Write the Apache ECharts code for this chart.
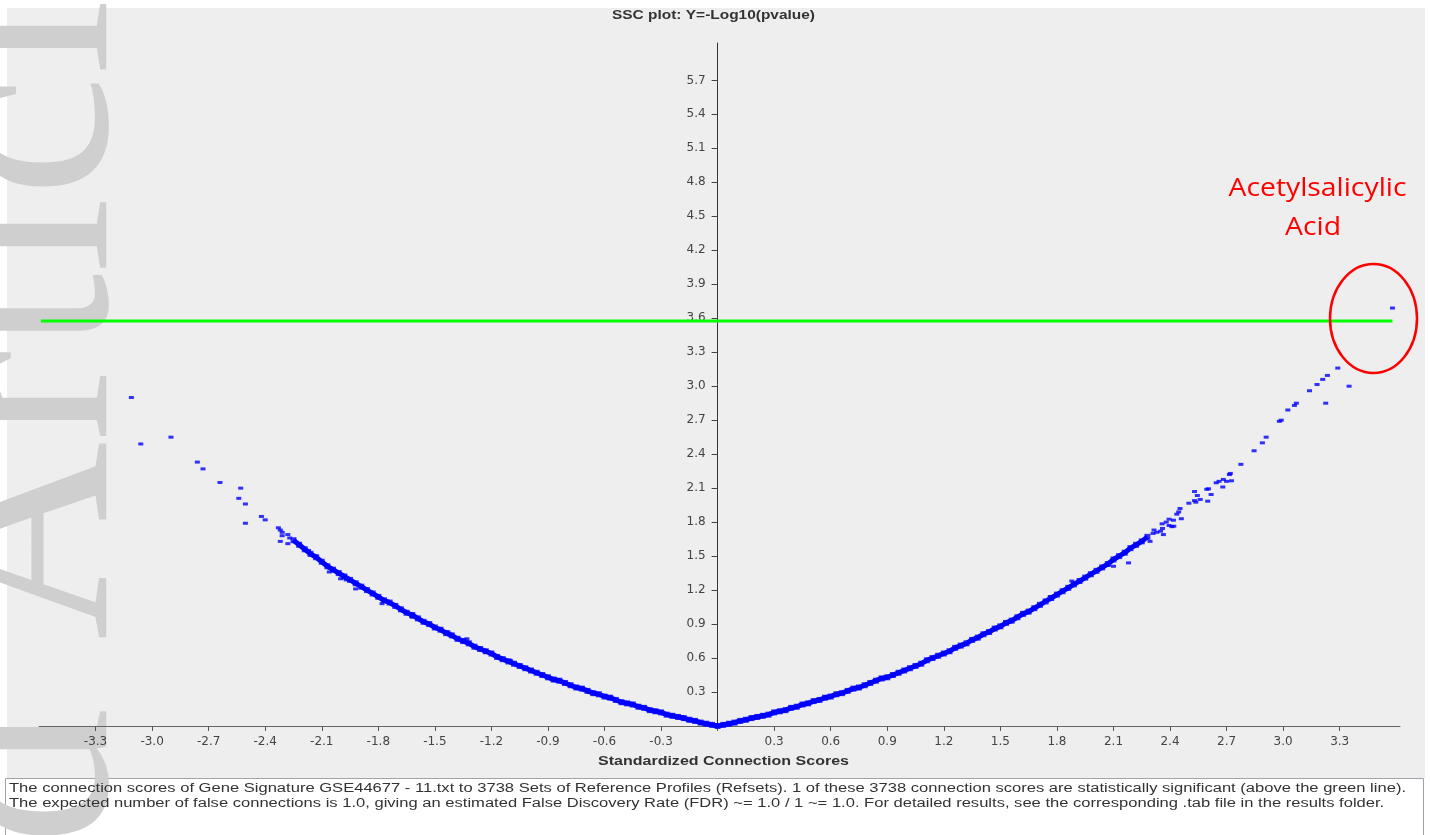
<!DOCTYPE html>
<html><head><meta charset="utf-8">
<script src="https://cdn.jsdelivr.net/npm/echarts@6/dist/echarts.min.js"></script>
<style>html,body{margin:0;padding:0;background:#fff}#c{width:1430px;height:835px}</style>
</head><body><div id="c"></div>
<script>
const xTicks = [-3.3,-3.0,-2.7,-2.4,-2.1,-1.8,-1.5,-1.2,-0.9,-0.6,-0.3,0,0.3,0.6,0.9,1.2,1.5,1.8,2.1,2.4,2.7,3.0,3.3];
const xLabels = [-3.3,-3.0,-2.7,-2.4,-2.1,-1.8,-1.5,-1.2,-0.9,-0.6,-0.3,0.3,0.6,0.9,1.2,1.5,1.8,2.1,2.4,2.7,3.0,3.3];
const yTicks = [0.3,0.6,0.9,1.2,1.5,1.8,2.1,2.4,2.7,3.0,3.3,3.6,3.9,4.2,4.5,4.8,5.1,5.4,5.7];
const threshold = 3.575;
const thresholdSpan = [-3.59, 3.58];

const bandLeft = [[-2.25,1.64],[-2.22,1.60],[-2.19,1.56],[-2.16,1.52],[-2.13,1.49],[-2.10,1.45],[-2.07,1.41],[-2.04,1.38],[-2.01,1.35],[-1.98,1.32],[-1.95,1.29],[-1.92,1.26],[-1.89,1.23],[-1.86,1.20],[-1.83,1.17],[-1.80,1.14],[-1.77,1.11],[-1.74,1.09],[-1.71,1.06],[-1.68,1.03],[-1.65,1.00],[-1.62,0.98],[-1.59,0.95],[-1.56,0.92],[-1.53,0.90],[-1.50,0.87],[-1.47,0.85],[-1.44,0.82],[-1.41,0.80],[-1.38,0.77],[-1.35,0.75],[-1.32,0.73],[-1.29,0.70],[-1.26,0.68],[-1.23,0.66],[-1.20,0.64],[-1.17,0.61],[-1.14,0.59],[-1.11,0.57],[-1.08,0.55],[-1.05,0.53],[-1.02,0.51],[-0.99,0.49],[-0.96,0.47],[-0.93,0.45],[-0.90,0.43],[-0.87,0.41],[-0.84,0.40],[-0.81,0.38],[-0.78,0.36],[-0.75,0.34],[-0.72,0.33],[-0.69,0.31],[-0.66,0.29],[-0.63,0.28],[-0.60,0.26],[-0.57,0.25],[-0.54,0.23],[-0.51,0.21],[-0.48,0.20],[-0.45,0.19],[-0.42,0.17],[-0.39,0.16],[-0.36,0.14],[-0.33,0.13],[-0.30,0.12],[-0.27,0.10],[-0.24,0.09],[-0.21,0.08],[-0.18,0.07],[-0.15,0.055],[-0.12,0.045],[-0.09,0.03],[-0.06,0.02],[-0.03,0.01],[0.00,0.00]];
const bandRight = [[0.03,0.01],[0.06,0.02],[0.09,0.03],[0.12,0.045],[0.15,0.055],[0.18,0.07],[0.21,0.08],[0.24,0.09],[0.27,0.10],[0.30,0.12],[0.33,0.13],[0.36,0.14],[0.39,0.16],[0.42,0.17],[0.45,0.19],[0.48,0.20],[0.51,0.22],[0.54,0.23],[0.57,0.25],[0.60,0.26],[0.63,0.28],[0.66,0.29],[0.69,0.31],[0.72,0.33],[0.75,0.34],[0.78,0.36],[0.81,0.38],[0.84,0.40],[0.87,0.42],[0.90,0.43],[0.93,0.45],[0.96,0.47],[0.99,0.49],[1.02,0.51],[1.05,0.53],[1.08,0.55],[1.11,0.58],[1.14,0.60],[1.17,0.62],[1.20,0.64],[1.23,0.66],[1.26,0.69],[1.29,0.71],[1.32,0.73],[1.35,0.76],[1.38,0.78],[1.41,0.81],[1.44,0.83],[1.47,0.86],[1.50,0.88],[1.53,0.91],[1.56,0.93],[1.59,0.96],[1.62,0.99],[1.65,1.01],[1.68,1.04],[1.71,1.07],[1.74,1.10],[1.77,1.13],[1.80,1.16],[1.83,1.19],[1.86,1.22],[1.89,1.25],[1.92,1.28],[1.95,1.31],[1.98,1.34],[2.01,1.37],[2.04,1.40],[2.07,1.43],[2.10,1.47],[2.13,1.50],[2.16,1.53],[2.19,1.57],[2.22,1.60],[2.25,1.63],[2.28,1.67]];
const sparseLeft = [[-3.11,2.90],[-3.06,2.49],[-2.90,2.55],[-2.76,2.33],[-2.73,2.27],[-2.64,2.15],[-2.53,2.10],[-2.54,2.01],[-2.505,1.96],[-2.505,1.79],[-2.42,1.85],[-2.40,1.82],[-2.33,1.75],[-2.32,1.73],[-2.31,1.71],[-2.31,1.68],[-2.32,1.63],[-2.28,1.69],[-2.28,1.61],[-2.27,1.66],[-2.17,1.55],[-2.06,1.36],[-2.00,1.30],[-1.97,1.29],[-1.92,1.21],[-1.78,1.08],[-1.62,0.96],[-1.43,0.83],[-1.33,0.77],[-1.10,0.58]];
const sparseRight = [[3.58,3.69],[3.29,3.16],[3.35,3.00],[3.235,3.095],[3.21,3.06],[3.18,3.015],[3.14,2.96],[3.226,2.85],[3.07,2.85],[3.06,2.83],[3.025,2.79],[2.99,2.70],[2.98,2.69],[2.91,2.55],[2.89,2.50],[2.846,2.43],[2.776,2.31],[2.72,2.23],[2.715,2.22],[2.726,2.165],[2.683,2.177],[2.70,2.16],[2.66,2.16],[2.645,2.147],[2.68,2.11],[2.618,2.044],[2.604,2.094],[2.595,2.09],[2.60,1.985],[2.56,2.0],[2.545,2.035],[2.53,2.07],[2.537,1.976],[2.53,1.99],[2.50,1.967],[2.453,1.92],[2.446,1.89],[2.46,1.83],[2.436,1.87],[2.418,1.817],[2.395,1.826],[2.41,1.76],[2.395,1.77],[2.42,1.764],[2.38,1.80],[2.358,1.785],[2.365,1.69],[2.36,1.744],[2.315,1.73],[2.33,1.71],[2.35,1.72],[2.31,1.70],[2.294,1.63],[2.18,1.44],[2.10,1.41],[1.879,1.28],[1.764,1.14]];

const titleText = 'SSC plot: Y=-Log10(pvalue)';
const xAxisName = 'Standardized Connection Scores';
const footer1 = 'The connection scores of Gene Signature GSE44677 - 11.txt to 3738 Sets of Reference Profiles (Refsets). 1 of these 3738 connection scores are statistically significant (above the green line).';
const footer2 = 'The expected number of false connections is 1.0, giving an estimated False Discovery Rate (FDR) ~= 1.0 / 1 ~= 1.0. For detailed results, see the corresponding .tab file in the results folder.';
const annotLines = ['Acetylsalicylic', 'Acid'];
const watermarkA = 'Accepted';
const watermarkB = 'Article';

const mctx = document.createElement('canvas').getContext('2d');
function fitScale(text, font, target) { mctx.font = font; return target / mctx.measureText(text).width; }

const titleFont = 'bold 12.5px "Liberation Sans"';
const nameFont = 'bold 12.5px "Liberation Sans"';
const footFont = '12px "Liberation Sans"';
const annotFont = '26px "Open Sans"';
const titleScale = fitScale(titleText, titleFont, 203);
const nameScale = fitScale(xAxisName, nameFont, 251);
const footScale = fitScale(footer1, footFont, 1397);
const annotScale = fitScale(annotLines[0], annotFont, 178);

const gridLeft = 39, gridRight = 30, xMin = -3.6, xMax = 3.62;
const plotW = 1430 - gridLeft - gridRight;
const zeroOffset = (0 - xMin) / (xMax - xMin) * plotW;

const chart = echarts.init(document.getElementById('c'), null, {renderer: 'canvas'});
const option = {
  animation: false,
  backgroundColor: '#ffffff',
  grid: {left: gridLeft, right: gridRight, top: 43, bottom: 109, containLabel: false, outerBoundsMode: 'none'},
  xAxis: {
    type: 'value', min: xMin, max: xMax,
    splitLine: {show: false},
    axisLine: {show: true, lineStyle: {color: '#666', width: 1}},
    axisTick: {show: true, length: 5, lineStyle: {color: '#555'}, customValues: xTicks},
    axisLabel: {customValues: xLabels, margin: 10, color: '#444', fontFamily: 'DejaVu Sans', fontSize: 12,
      formatter: v => v.toFixed(1)}
  },
  yAxis: {
    type: 'value', min: 0, max: 6.03, position: 'left', offset: -zeroOffset,
    splitLine: {show: false},
    axisLine: {show: true, onZero: false, lineStyle: {color: '#333', width: 1}},
    axisTick: {show: true, length: 6, lineStyle: {color: '#444'}, customValues: yTicks},
    axisLabel: {customValues: yTicks, margin: 12, color: '#444', fontFamily: 'DejaVu Sans', fontSize: 12,
      formatter: v => v.toFixed(1)}
  },
  series: [
    {type: 'line', data: [[thresholdSpan[0], threshold], [thresholdSpan[1], threshold]], symbol: 'none',
      lineStyle: {color: '#00ff00', width: 3}, silent: true, z: 3},
    {type: 'line', data: bandLeft.concat(bandRight), symbol: 'none', smooth: false,
      lineStyle: {color: '#0000ff', width: 5}, silent: true, z: 4},
    {type: 'scatter', data: bandLeft.concat(bandRight), symbol: 'rect', symbolSize: [6, 6],
      itemStyle: {color: '#0000ff'}, silent: true, z: 4},
    {type: 'scatter', data: sparseLeft.concat(sparseRight), symbol: 'rect', symbolSize: [5, 3],
      itemStyle: {color: '#0000ff'}, silent: true, z: 4}
  ],
  graphic: {elements: [
    {type: 'rect', shape: {x: 7, y: 8, width: 1418, height: 770}, style: {fill: '#eeeeee'}, z: -100, silent: true},
    {type: 'rect', shape: {x: 5.5, y: 778.5, width: 1418, height: 62}, style: {fill: '#ffffff', stroke: '#a0a4aa', lineWidth: 1}, z: -90, silent: true},
    {type: 'text', x: 34, y: 640, rotation: Math.PI / 2, z: -50, silent: true,
      style: {text: watermarkB, font: '275px "Liberation Serif"', fill: '#cfcfcf', align: 'left', verticalAlign: 'middle'}},
    {type: 'text', x: 34, y: 708, rotation: Math.PI / 2, z: -50, silent: true,
      style: {text: watermarkA, font: '275px "Liberation Serif"', fill: '#cfcfcf', align: 'right', verticalAlign: 'middle'}},
    {type: 'text', x: 713.5, y: 16, scaleX: titleScale, z: 100, silent: true,
      style: {text: titleText, font: titleFont, fill: '#333', align: 'center', verticalAlign: 'middle'}},
    {type: 'text', x: 723.5, y: 762, scaleX: nameScale, z: 100, silent: true,
      style: {text: xAxisName, font: nameFont, fill: '#333', align: 'center', verticalAlign: 'middle'}},
    {type: 'text', x: 9, y: 789, scaleX: footScale, z: 100, silent: true,
      style: {text: footer1, font: footFont, fill: '#333', align: 'left', verticalAlign: 'middle'}},
    {type: 'text', x: 9, y: 804, scaleX: footScale, z: 100, silent: true,
      style: {text: footer2, font: footFont, fill: '#333', align: 'left', verticalAlign: 'middle'}},
    {type: 'text', x: 1317.5, y: 189, scaleX: annotScale, z: 100, silent: true,
      style: {text: annotLines[0], font: annotFont, fill: '#ff0000', align: 'center', verticalAlign: 'middle'}},
    {type: 'text', x: 1313, y: 228, scaleX: annotScale, z: 100, silent: true,
      style: {text: annotLines[1], font: annotFont, fill: '#ff0000', align: 'center', verticalAlign: 'middle'}},
    {type: 'ellipse', shape: {cx: 1373.5, cy: 318.5, rx: 43.5, ry: 54.5}, z: 100, silent: true,
      style: {fill: 'none', stroke: '#ff0000', lineWidth: 2.5}}
  ]}
};
chart.setOption(option);
</script>
</body></html>
